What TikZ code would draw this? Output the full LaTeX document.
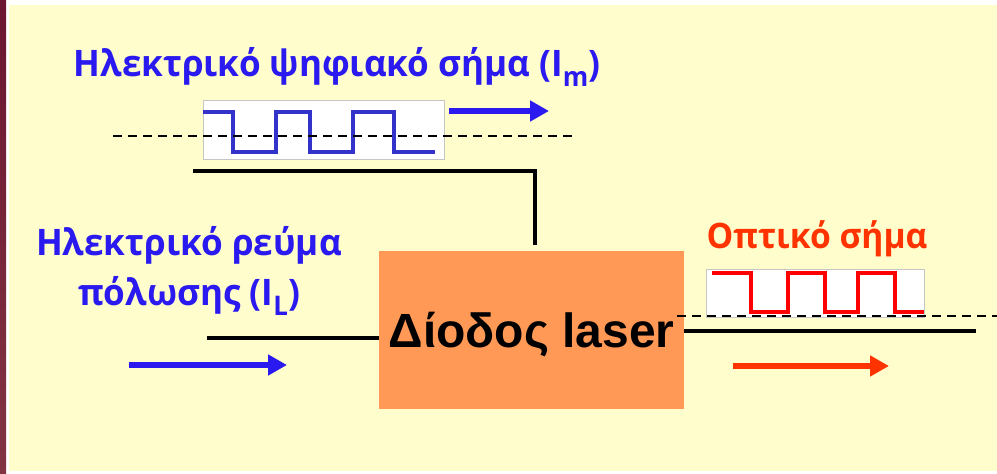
\documentclass[tikz,border=0pt]{standalone}
\usepackage{fontspec}
\setmainfont{Open Sans}
\newfontfamily\lblfont[FakeStretch=0.96]{Open Sans}
\newfontfamily\boxfont{Liberation Sans}
\usetikzlibrary{arrows.meta}

\definecolor{slidebg}{RGB}{255,253,204}
\definecolor{stripA}{RGB}{108,22,50}
\definecolor{stripB}{RGB}{130,52,67}
\definecolor{diodefill}{RGB}{255,153,85}
\definecolor{elblue}{RGB}{42,26,240}
\definecolor{waveblue}{RGB}{51,51,204}
\definecolor{optred}{RGB}{255,51,0}

\tikzset{
  lbl/.style={font=\lblfont\fontsize{36.5}{50}\selectfont\bfseries},
  bigarrow/.style={line width=6pt,-{Triangle[length=19pt,width=20pt]}},
  wire/.style={line width=3.5pt},
  level/.style={line width=2.5pt,dash pattern=on 9pt off 6pt},
  scopebox/.style={draw=gray!45,fill=white,line width=0.8pt,inner sep=0pt},
  wave/.style={line width=4.5pt,line join=miter}
}

\newcommand{\subidx}[1]{\raisebox{-0.28em}{\fontsize{27}{27}\selectfont #1}}

\begin{document}
\begin{tikzpicture}[x=1pt,y=-1pt]
                \useasboundingbox (0,0) rectangle (997,474);
                % Background
                \fill[white] (0,0) rectangle (997,474);
                \fill[slidebg] (9,5) rectangle (997,471);
                \shade[top color=stripA,bottom color=stripB] (0,0) rectangle (6,474);

                % Nodes
                \node[fill=diodefill, minimum width=305pt, minimum height=158pt,
                      font=\boxfont\fontsize{48}{52}\selectfont\bfseries,
                      text height=35pt, text depth=0pt] (diode) at (531.5,330) {Δίοδος laser};
                \node[scopebox, minimum width=241pt, minimum height=59pt] (sigin) at (323.5,129.5) {};
                \node[scopebox, minimum width=218pt, minimum height=48pt] (sigout) at (815,293) {};

                \node[lbl, text=elblue, anchor=base] (modlabel) at (337,76)
                      {Ηλεκτρικό ψηφιακό σήμα (I\subidx{m})};
                \node[lbl, text=elblue, align=center, anchor=base] (biaslabel) at (189,305)
                      {Ηλεκτρικό ρεύμα\\πόλωσης (I\subidx{L})};
                \node[lbl, font=\lblfont\fontsize{35}{40}\selectfont\bfseries, text=optred, anchor=base]
                      (optlabel) at (817,248) {Οπτικό σήμα};

                \coordinate (modin) at (193,171);
                \coordinate (biasin) at (207,338);
                \coordinate (optout) at (976,331);
                \coordinate (modA) at (449,111);
                \coordinate (modB) at (549,111);
                \coordinate (biasA) at (129,365);
                \coordinate (biasB) at (287,365);
                \coordinate (optA) at (733,366);
                \coordinate (optB) at (889,366);

                % Waveforms
                \draw[wave, waveblue] (203,112) -- (233,112) -- (233,152) -- (276,152) -- (276,112)
                      -- (310,112) -- (310,152) -- (353,152) -- (353,112) -- (394,112) -- (394,152) -- (435,152);
                \draw[wave, red] (712,273) -- (751,273) -- (751,312) -- (788,312) -- (788,273)
                      -- (825,273) -- (825,312) -- (858,312) -- (858,273) -- (895,273) -- (895,312) -- (924,312);

                % Edges
                \draw[wire] (modin) -| ([yshift=6pt]diode.north -| 535,0);
                \draw[wire] (biasin) -- (biasin -| diode.west);
                \draw[wire] (diode.east |- optout) -- (optout);
                \draw[level] (113,136) -- (572,136);
                \draw[level] (677,316) -- (997,316);

                \draw[bigarrow, elblue] (modA) -- (modB);
                \draw[bigarrow, elblue] (biasA) -- (biasB);
                \draw[bigarrow, optred] (optA) -- (optB);
            \end{tikzpicture}
\end{document}
